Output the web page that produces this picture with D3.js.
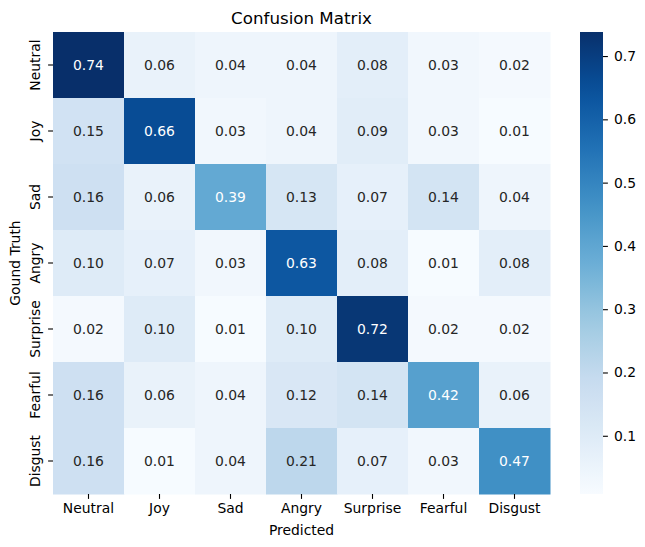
<!DOCTYPE html>
<html>
<head>
<meta charset="utf-8">
<script src="https://cdn.jsdelivr.net/npm/d3@7"></script>
<style>
  body { margin: 0; background: #fff; }
  svg { display: block; font-family: "DejaVu Sans", sans-serif; }
</style>
</head>
<body>
<div id="chart"></div>
<script>
"use strict";

// rows = ground truth, columns = predicted
var labels = ["Neutral", "Joy", "Sad", "Angry", "Surprise", "Fearful", "Disgust"];
var neutralRow  = [0.74, 0.06, 0.04, 0.04, 0.08, 0.03, 0.02];
var joyRow      = [0.15, 0.66, 0.03, 0.04, 0.09, 0.03, 0.01];
var sadRow      = [0.16, 0.06, 0.39, 0.13, 0.07, 0.14, 0.04];
var angryRow    = [0.10, 0.07, 0.03, 0.63, 0.08, 0.01, 0.08];
var surpriseRow = [0.02, 0.10, 0.01, 0.10, 0.72, 0.02, 0.02];
var fearfulRow  = [0.16, 0.06, 0.04, 0.12, 0.14, 0.42, 0.06];
var disgustRow  = [0.16, 0.01, 0.04, 0.21, 0.07, 0.03, 0.47];
var colorRange  = [0.008, 0.738];
var colorTicks  = [0.1, 0.2, 0.3, 0.4, 0.5, 0.6, 0.7];

var rows = [neutralRow, joyRow, sadRow, angryRow, surpriseRow, fearfulRow, disgustRow];

var cells = [];
rows.forEach(function(r, i) {
	r.forEach(function(v, j) {
		cells.push({truth: labels[i], pred: labels[j], value: v});
	});
});

// matplotlib "Blues" is a linear ramp over the colorbrewer 9 colours
var blues = d3.piecewise(d3.interpolateRgb, ["#f7fbff", "#deebf7", "#c6dbef", "#9ecae1",
	"#6baed6", "#4292c6", "#2171b5", "#08519c", "#08306b"]);

var svg = d3.select("#chart").append("svg").attr("width", 645).attr("height", 547);

var margin = {top: 32, left: 53},
	width = 497,
	height = 462;

var g = svg.append("g").attr("transform", "translate(" + margin.left + "," + margin.top + ")");

var x = d3.scaleBand().domain(labels).range([0, width]);
var y = d3.scaleBand().domain(labels).range([0, height]);
var c = d3.scaleSequential(blues).domain(colorRange);

function luminance(col) {
	var rgb = d3.rgb(col);
	var ch = [rgb.r, rgb.g, rgb.b].map(function(v) {
		v = v / 255;
		return v <= 0.03928 ? v / 12.92 : Math.pow((v + 0.055) / 1.055, 2.4);
	});
	return 0.2126 * ch[0] + 0.7152 * ch[1] + 0.0722 * ch[2];
}

g.selectAll(".cell")
	.data(cells)
	.enter().append("rect")
	.attr("class", "cell")
	.attr("x", function(d) { return x(d.pred); })
	.attr("y", function(d) { return y(d.truth); })
	.attr("width", x.bandwidth() + 0.5)
	.attr("height", y.bandwidth() + 0.5)
	.attr("fill", function(d) { return c(d.value); });

g.selectAll(".annot")
	.data(cells)
	.enter().append("text")
	.attr("class", "annot")
	.attr("x", function(d) { return x(d.pred) + x.bandwidth() / 2; })
	.attr("y", function(d) { return y(d.truth) + y.bandwidth() / 2; })
	.attr("dy", "0.36em")
	.attr("text-anchor", "middle")
	.style("font-size", "13.9px")
	.style("fill", function(d) { return luminance(c(d.value)) > 0.408 ? "#262626" : "#ffffff"; })
	.text(function(d) { return d.value.toFixed(2); });

// x axis
var xAxis = g.append("g")
	.attr("transform", "translate(0," + height + ")")
	.call(d3.axisBottom(x).tickSize(4.9).tickPadding(4.5));
xAxis.select(".domain").remove();
xAxis.selectAll("line").attr("stroke", "#000").attr("stroke-width", 1.1);
xAxis.selectAll("text").style("font-size", "13.9px").attr("fill", "#000")
	.attr("font-family", "DejaVu Sans");

// y axis, labels rotated
var yAxis = g.append("g")
	.call(d3.axisLeft(y).tickSize(4.9).tickPadding(0));
yAxis.select(".domain").remove();
yAxis.selectAll("line").attr("stroke", "#000").attr("stroke-width", 1.1);
yAxis.selectAll("text")
	.style("font-size", "13.9px").attr("fill", "#000").attr("font-family", "DejaVu Sans")
	.attr("x", null).attr("dy", null)
	.attr("text-anchor", "middle")
	.attr("transform", "translate(-13.5,0) rotate(-90)");

g.append("text")
	.attr("x", width / 2)
	.attr("y", -8)
	.attr("text-anchor", "middle")
	.style("font-size", "16.7px")
	.text("Confusion Matrix");

g.append("text")
	.attr("x", width / 2)
	.attr("y", 535 - margin.top)
	.attr("text-anchor", "middle")
	.style("font-size", "13.9px")
	.text("Predicted");

g.append("text")
	.attr("transform", "translate(" + (19.5 - margin.left) + "," + (height / 2) + ") rotate(-90)")
	.attr("text-anchor", "middle")
	.style("font-size", "13.9px")
	.text("Gound Truth");

// colorbar
var cbX = 580, cbW = 23;
var cbScale = d3.scaleLinear().domain(colorRange).range([margin.top + height, margin.top]);
var defs = svg.append("defs");
var grad = defs.append("linearGradient")
	.attr("id", "cbgrad")
	.attr("x1", "0").attr("y1", "1").attr("x2", "0").attr("y2", "0");
d3.range(0, 1.0001, 0.05).forEach(function(t) {
	grad.append("stop")
		.attr("offset", t)
		.attr("stop-color", c(colorRange[0] + t * (colorRange[1] - colorRange[0])));
});
svg.append("rect")
	.attr("x", cbX).attr("y", margin.top)
	.attr("width", cbW).attr("height", height)
	.attr("fill", "url(#cbgrad)");

var cbAxis = svg.append("g")
	.attr("transform", "translate(" + (cbX + cbW) + ",0)")
	.call(d3.axisRight(cbScale).tickValues(colorTicks).tickFormat(d3.format(".1f"))
		.tickSize(4.9).tickPadding(6));
cbAxis.select(".domain").remove();
cbAxis.selectAll("line").attr("stroke", "#000").attr("stroke-width", 1.1);
cbAxis.selectAll("text").style("font-size", "13.9px").attr("fill", "#000")
	.attr("font-family", "DejaVu Sans");
</script>
</body>
</html>
